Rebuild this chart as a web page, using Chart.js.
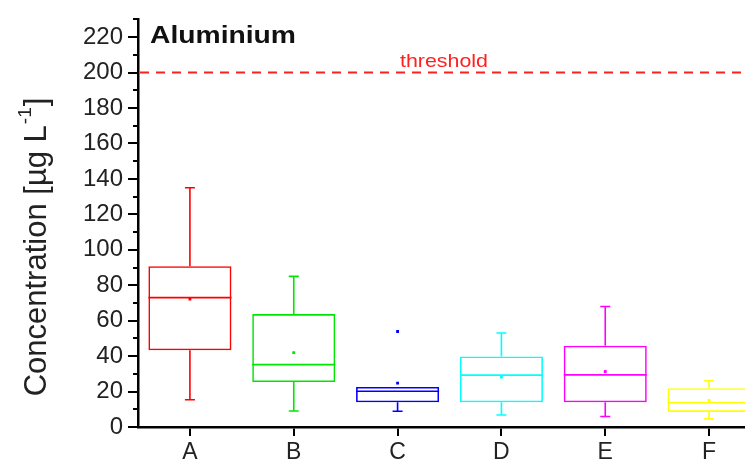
<!DOCTYPE html>
<html>
<head>
<meta charset="utf-8">
<script src="https://cdn.jsdelivr.net/npm/chart.js@4.4.1/dist/chart.umd.min.js"></script>
<style>
  html, body { margin: 0; padding: 0; background: #fff; overflow: hidden; }
  #wrap { width: 745px; height: 463px; overflow: hidden; position: relative; }
  canvas { display: block; }
</style>
</head>
<body>
<div id="wrap"><canvas id="chart" width="765" height="463"></canvas></div>
<script>
// Aluminium concentration per site, box plot summary values (µg/L)
const categories  = ['A', 'B', 'C', 'D', 'E', 'F'];
const whiskerLow  = [15.4, 9.0, 8.9, 6.8, 5.9, 4.6];
const quartile1   = [43.3, 25.4, 13.9, 13.9, 13.9, 8.5];
const medians     = [73.0, 35.2, 20.2, 29.3, 29.4, 13.7];
const quartile3   = [90.7, 63.7, 22.6, 39.8, 45.9, 21.9];
const whiskerHigh = [135.0, 85.0, 22.6, 53.0, 68.0, 26.1];
const means       = [72.2, 42.0, 24.8, 28.1, 31.3, 15.0];
const outliers    = [null, null, 53.9, null, null, null];
const thresholdValue = 200;
const yTickLabels = [0, 20, 40, 60, 80, 100, 120, 140, 160, 180, 200, 220];

const colors = ['#ff0000', '#00e600', '#0000ff', '#00ffff', '#ff00ff', '#ffff00'];
const FONT = '"Liberation Sans", Arial, sans-serif';

// Whiskers, caps and median lines for each box
const boxExtras = {
  id: 'boxExtras',
  afterDatasetsDraw(chart) {
    const { ctx } = chart;
    const x = chart.scales.x, y = chart.scales.y;
    const boxes = chart.getDatasetMeta(0).data;
    ctx.save();
    ctx.lineWidth = 1.6;
    categories.forEach((c, i) => {
      const cx = x.getPixelForValue(i);
      const half = boxes[i].width / 2;
      const cap = 5;
      ctx.strokeStyle = colors[i];
      ctx.beginPath();
      // median
      ctx.moveTo(cx - half, y.getPixelForValue(medians[i]));
      ctx.lineTo(cx + half, y.getPixelForValue(medians[i]));
      // upper whisker
      if (whiskerHigh[i] > quartile3[i]) {
        ctx.moveTo(cx, y.getPixelForValue(quartile3[i]));
        ctx.lineTo(cx, y.getPixelForValue(whiskerHigh[i]));
        ctx.moveTo(cx - cap, y.getPixelForValue(whiskerHigh[i]));
        ctx.lineTo(cx + cap, y.getPixelForValue(whiskerHigh[i]));
      }
      // lower whisker
      if (whiskerLow[i] < quartile1[i]) {
        ctx.moveTo(cx, y.getPixelForValue(quartile1[i]));
        ctx.lineTo(cx, y.getPixelForValue(whiskerLow[i]));
        ctx.moveTo(cx - cap, y.getPixelForValue(whiskerLow[i]));
        ctx.lineTo(cx + cap, y.getPixelForValue(whiskerLow[i]));
      }
      ctx.stroke();
    });
    ctx.restore();
  }
};

// draws text stretched horizontally to a given width
function wideText(ctx, text, x, y, width) {
  const w = ctx.measureText(text).width;
  ctx.save();
  ctx.translate(x, y);
  ctx.scale(width / w, 1);
  ctx.fillText(text, 0, 0);
  ctx.restore();
}

// Threshold line, panel title, minor ticks and y-axis title
const decorations = {
  id: 'decorations',
  afterDraw(chart) {
    const { ctx, chartArea } = chart;
    const y = chart.scales.y;
    ctx.save();

    // threshold
    const ty = y.getPixelForValue(thresholdValue);
    ctx.strokeStyle = '#ff2020';
    ctx.lineWidth = 2;
    ctx.setLineDash([9, 7]);
    ctx.beginPath();
    ctx.moveTo(chartArea.left + 2, ty);
    ctx.lineTo(chartArea.right, ty);
    ctx.stroke();
    ctx.setLineDash([]);
    ctx.fillStyle = '#ff2020';
    ctx.font = '19px ' + FONT;
    ctx.textAlign = 'left';
    ctx.textBaseline = 'alphabetic';
    wideText(ctx, 'threshold', 400, ty - 6, 88);

    // panel title
    ctx.fillStyle = '#111';
    ctx.font = 'bold 23px ' + FONT;
    wideText(ctx, 'Aluminium', 150, 43, 146);

    // minor ticks every 10
    ctx.strokeStyle = '#000';
    ctx.lineWidth = 2;
    ctx.beginPath();
    for (let v = 10; v <= y.max; v += 20) {
      const py = Math.round(y.getPixelForValue(v));
      ctx.moveTo(chartArea.left, py);
      ctx.lineTo(chartArea.left - 5, py);
    }
    ctx.stroke();

    // y-axis title with superscript
    const main = 'Concentration [µg L';
    const sup = '-1';
    const tail = ']';
    const fMain = '31px ' + FONT;
    const fSup = '19px ' + FONT;
    ctx.font = fMain;
    const wMain = ctx.measureText(main).width;
    const wTail = ctx.measureText(tail).width;
    ctx.font = fSup;
    const wSup = ctx.measureText(sup).width;
    const total = wMain + wSup + wTail + 2;
    ctx.translate(46, 247);
    ctx.rotate(-Math.PI / 2);
    ctx.fillStyle = '#222';
    ctx.textAlign = 'left';
    ctx.font = fMain;
    let sx = -total / 2;
    ctx.fillText(main, sx, 0);
    sx += wMain + 1;
    ctx.font = fSup;
    ctx.fillText(sup, sx, -15);
    sx += wSup + 1;
    ctx.font = fMain;
    ctx.fillText(tail, sx, 0);
    ctx.restore();
  }
};

new Chart(document.getElementById('chart'), {
  data: {
    labels: categories,
    datasets: [
      {
        type: 'bar',
        data: categories.map((c, i) => [quartile1[i], quartile3[i]]),
        backgroundColor: 'rgba(0,0,0,0)',
        borderColor: colors,
        borderWidth: 1.6,
        borderSkipped: false,
        barPercentage: 0.8,
        categoryPercentage: 1.0
      },
      {
        type: 'line',
        data: means,
        showLine: false,
        pointStyle: 'rect',
        pointRadius: 2,
        pointBorderWidth: 0,
        pointBackgroundColor: colors
      },
      {
        type: 'line',
        data: outliers,
        showLine: false,
        pointStyle: 'rect',
        pointRadius: 2,
        pointBorderWidth: 0,
        pointBackgroundColor: colors
      }
    ]
  },
  options: {
    responsive: false,
    animation: false,
    events: [],
    layout: { padding: { top: 13, right: 4, left: 0, bottom: 0 } },
    plugins: { legend: { display: false }, tooltip: { enabled: false } },
    scales: {
      x: {
        type: 'category',
        offset: true,
        border: { display: true, color: '#000', width: 2.5 },
        grid: { display: true, drawOnChartArea: false, drawTicks: true, tickLength: 9, offset: false, color: '#000', lineWidth: 2 },
        ticks: { color: '#222', padding: 3, font: { size: 23, family: FONT } },
        afterFit(scale) { scale.height = 36; }
      },
      y: {
        min: 0,
        max: 230,
        border: { display: true, color: '#000', width: 2.5 },
        grid: {
          display: true, drawOnChartArea: false, drawTicks: true, tickLength: 10, lineWidth: 2,
          color: (ctx) => (yTickLabels.includes(ctx.tick && ctx.tick.value) ? '#000' : 'rgba(0,0,0,0)')
        },
        ticks: {
          stepSize: 10,
          color: '#222',
          padding: 5,
          font: { size: 24, family: FONT },
          callback: (v) => (yTickLabels.includes(v) ? String(v) : '')
        },
        afterFit(scale) { scale.width = 138; }
      }
    }
  },
  plugins: [boxExtras, decorations]
});
</script>
</body>
</html>
